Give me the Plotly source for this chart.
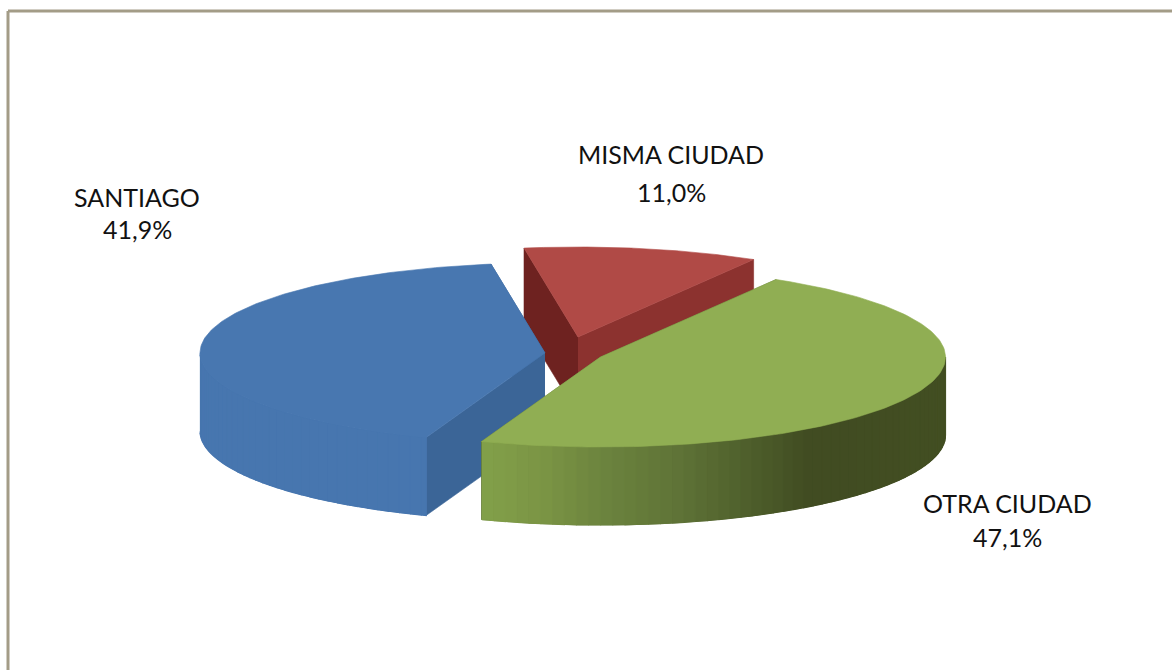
import numpy as np
import plotly.graph_objects as go

categories = ["MISMA CIUDAD", "SANTIAGO", "OTRA CIUDAD"]
shares = [11.0, 41.9, 47.1]

# drawing geometry (pixels of the 1172x670 picture)
W, H = 1172, 670
FIRST_ANGLE = 59.4
RX, RY, DEPTH = 345, 90, 78
CENTERS = {"MISMA CIUDAD": (578, 337), "SANTIAGO": (545, 353), "OTRA CIUDAD": (600.5, 357)}
TOP = {"MISMA CIUDAD": "#B04A46", "SANTIAGO": "#4877B0", "OTRA CIUDAD": "#90AE53"}
CUT_A = {"MISMA CIUDAD": "#6E2220", "SANTIAGO": "#3B6597", "OTRA CIUDAD": "#5C6F35"}
CUT_B = {"MISMA CIUDAD": "#8C322F", "SANTIAGO": "#3B6597", "OTRA CIUDAD": "#5C6F35"}
WALL = {
    "SANTIAGO": [(200, "#4776AF"), (427, "#4776AF")],
    "OTRA CIUDAD": [(483, "#82A04A"), (540, "#7C9645"), (600, "#6D853F"), (680, "#5F7337"),
                    (760, "#4C5C2A"), (810, "#414C22"), (945, "#434F22")],
    "MISMA CIUDAD": [(523, "#8C322F"), (753, "#8C322F")],
}


def hex_rgb(c):
    return np.array([int(c[i:i + 2], 16) for i in (1, 3, 5)], float)


def ramp(stops, x):
    xs = [s[0] for s in stops]
    rgb = np.array([hex_rgb(s[1]) for s in stops])
    return "rgb(%d,%d,%d)" % tuple(np.interp(x, xs, rgb[:, i]) for i in range(3))


def pt(center, deg):
    a = np.radians(deg)
    return center[0] + RX * np.cos(a), center[1] - RY * np.sin(a)


def poly(fig, xs, ys, color, width=0.6):
    fig.add_trace(go.Scatter(x=list(xs), y=list(ys), mode="lines", fill="toself", fillcolor=color,
                             line=dict(color=color, width=width), hoverinfo="skip", showlegend=False))


# slice angles follow from the shares
spans, start = {}, FIRST_ANGLE
for name, share in zip(categories, shares):
    spans[name] = (start, start + share * 3.6)
    start += share * 3.6

fig = go.Figure()
for name in ["MISMA CIUDAD", "SANTIAGO", "OTRA CIUDAD"]:
    c = CENTERS[name]
    a0, a1 = spans[name]
    p0, p1 = pt(c, a0), pt(c, a1)
    # flat cut faces
    poly(fig, [c[0], p0[0], p0[0], c[0]], [c[1], p0[1], p0[1] + DEPTH, c[1] + DEPTH], CUT_B[name])
    poly(fig, [c[0], p1[0], p1[0], c[0]], [c[1], p1[1], p1[1] + DEPTH, c[1] + DEPTH], CUT_A[name])
    # front wall: one base shape, then narrow strips for the shading
    fine = np.linspace(a0, a1, 300)
    fine = fine[np.sin(np.radians(fine)) < 0]
    if len(fine):
        wx, wy = pt(c, fine)
        poly(fig, [*wx, *wx[::-1]], [*wy, *(wy[::-1] + DEPTH)], ramp(WALL[name], float(wx.mean())))
    edges = list(np.arange(np.ceil(a0), a1, 2.0)) + [a1]
    for d0, d1 in zip([a0] + edges[:-1], edges):
        if np.sin(np.radians((d0 + d1) / 2)) < 0:
            x0, y0 = pt(c, d0)
            x1, y1 = pt(c, d1)
            poly(fig, [x0, x1, x1, x0], [y0, y1, y1 + DEPTH, y0 + DEPTH], ramp(WALL[name], (x0 + x1) / 2), 1.2)
    # top face
    arc = np.linspace(a0, a1, 160)
    tx, ty = pt(c, arc)
    poly(fig, [c[0], *tx, c[0]], [c[1], *ty, c[1]], TOP[name])

LABELS = {
    "MISMA CIUDAD": (671, 154, 192),
    "SANTIAGO": (137, 197, 229),
    "OTRA CIUDAD": (1007, 503, 537),
}
annotations = []
for name, share in zip(categories, shares):
    lx, y0, y1 = LABELS[name]
    for text, y in ((name, y0), (f"{share:.1f}%".replace(".", ","), y1)):
        annotations.append(dict(x=lx, y=y, text=text, showarrow=False, xanchor="center", yanchor="middle",
                                font=dict(family="Lato, sans-serif", size=25, color="#111111")))

frame = dict(type="line", xref="x", yref="y", line=dict(color="#A39C87", width=3))
fig.update_layout(
    width=W, height=H, margin=dict(l=0, r=0, t=0, b=0), paper_bgcolor="white", plot_bgcolor="white",
    showlegend=False, annotations=annotations,
    xaxis=dict(range=[0, W], visible=False, fixedrange=True),
    yaxis=dict(range=[H, 0], visible=False, fixedrange=True),
    shapes=[dict(frame, x0=8, x1=8, y0=11, y1=H), dict(frame, x0=8, x1=W, y0=11, y1=11)],
)
fig.write_html("out.html", config={"displayModeBar": False}, post_script="document.body.style.margin='0';")
